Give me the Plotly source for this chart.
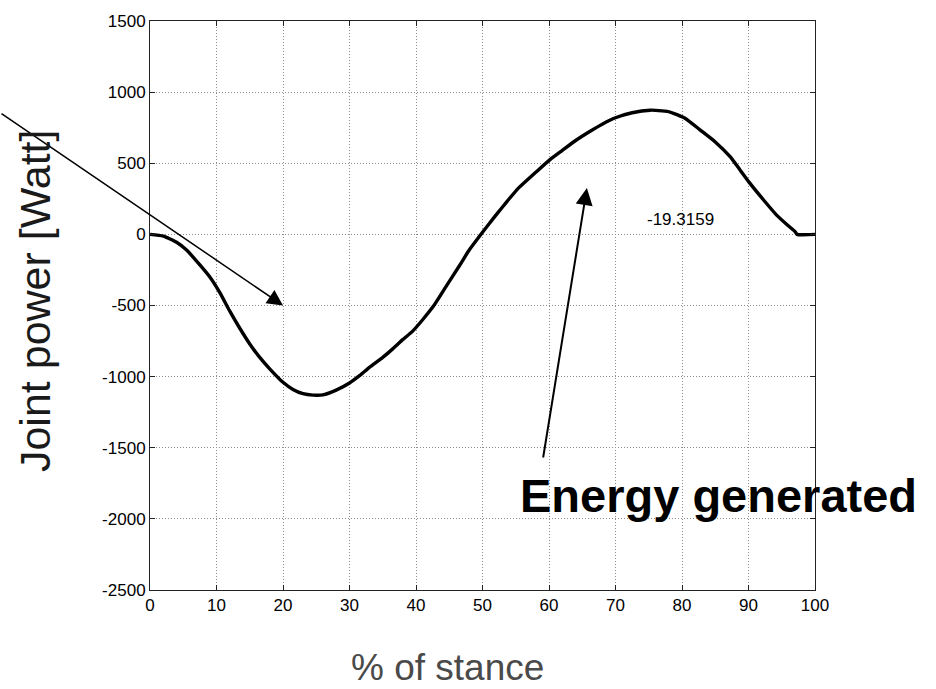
import plotly.graph_objects as go

# % of stance
stance = [0, 2, 4, 5.5, 7.5, 9, 10.5, 12, 13.5, 15, 16.5, 18, 20, 21.5, 23, 24.5, 26, 28,
          30, 31.6, 33, 35, 36.5, 38, 39.5, 41, 42.6, 44.6, 46.6, 48, 49.6, 51, 52.2, 53.7,
          55.2, 58.2, 60.2, 62, 64, 66, 68, 70, 72.5, 75.2, 77, 78.2, 80.5, 82.7, 85, 87.2,
          88.7, 90.2, 92.3, 94.3, 96, 97, 97.3, 100]
# Joint power [Watt]
power = [0, -12, -55, -110, -215, -300, -410, -540, -660, -770, -865, -945, -1040, -1090,
         -1120, -1130, -1128, -1095, -1045, -990, -935, -865, -805, -740, -680, -600, -506,
         -360, -215, -110, -10, 75, 146, 232, 315, 444, 527, 590, 660, 720, 775, 820, 855,
         873, 868, 860, 815, 735, 650, 548, 455, 360, 240, 132, 60, 20, 0, 0]

x_ticks = [0, 10, 20, 30, 40, 50, 60, 70, 80, 90, 100]
y_ticks = [-2500, -2000, -1500, -1000, -500, 0, 500, 1000, 1500]

FONT = "Liberation Sans, Arial, sans-serif"

fig = go.Figure()
fig.add_trace(go.Scatter(x=stance, y=power, mode="lines",
                         line=dict(color="black", width=3.4, shape="spline", smoothing=0.5),
                         showlegend=False, hoverinfo="skip"))

axis_common = dict(showgrid=True, gridcolor="#8c8c8c", griddash="1px,2px", gridwidth=1,
                   showline=True, linecolor="#222", linewidth=1, mirror="ticks",
                   ticks="inside", ticklen=5, tickcolor="#222", zeroline=False,
                   tickfont=dict(family=FONT, size=17, color="black"))

fig.update_xaxes(range=[0, 100], tickvals=x_ticks, ticktext=[str(v) for v in x_ticks],
                 **axis_common)
fig.update_yaxes(range=[-2500, 1500], tickvals=y_ticks, ticktext=[str(v) for v in y_ticks],
                 **axis_common)

annotations = [
    # arrow pointing to the negative work region
    dict(x=20, y=-500, xref="x", yref="y", ax=-283, ay=-193, axref="pixel", ayref="pixel",
         text="", showarrow=True, arrowhead=2, arrowsize=2.1, arrowwidth=1.5,
         arrowcolor="black", standoff=0),
    # arrow from "Energy generated"
    dict(x=65.7, y=326, xref="x", yref="y", ax=-44, ay=271,
         text="", showarrow=True, arrowhead=2, arrowsize=1.7, arrowwidth=2,
         arrowcolor="black", standoff=0),
    dict(x=79.7, y=104, xref="x", yref="y", text="-19.3159", showarrow=False,
         font=dict(family=FONT, size=17, color="black"), xanchor="center", yanchor="middle"),
    dict(x=0.8556, y=0.1664, xref="paper", yref="paper", text="<b>Energy generated</b>",
         showarrow=False, font=dict(family=FONT, size=47, color="black"),
         xanchor="center", yanchor="middle"),
    dict(x=0.4474, y=-0.1369, xref="paper", yref="paper", text="% of stance",
         showarrow=False, font=dict(family=FONT, size=37, color="#4a4a4a"),
         xanchor="center", yanchor="middle"),
    dict(x=(35 - 150) / 665, y=(590 - 297) / 577, xref="paper", yref="paper",
         text="Joint power [Watt]", textangle=-90, showarrow=False,
         font=dict(family=FONT, size=43, color="#1a1a1a"),
         xanchor="center", yanchor="middle"),
]

fig.update_layout(width=936, height=689, margin=dict(l=150, r=121, t=13, b=99),
                  paper_bgcolor="white", plot_bgcolor="white",
                  annotations=annotations, showlegend=False)

fig.write_html("out.html")
